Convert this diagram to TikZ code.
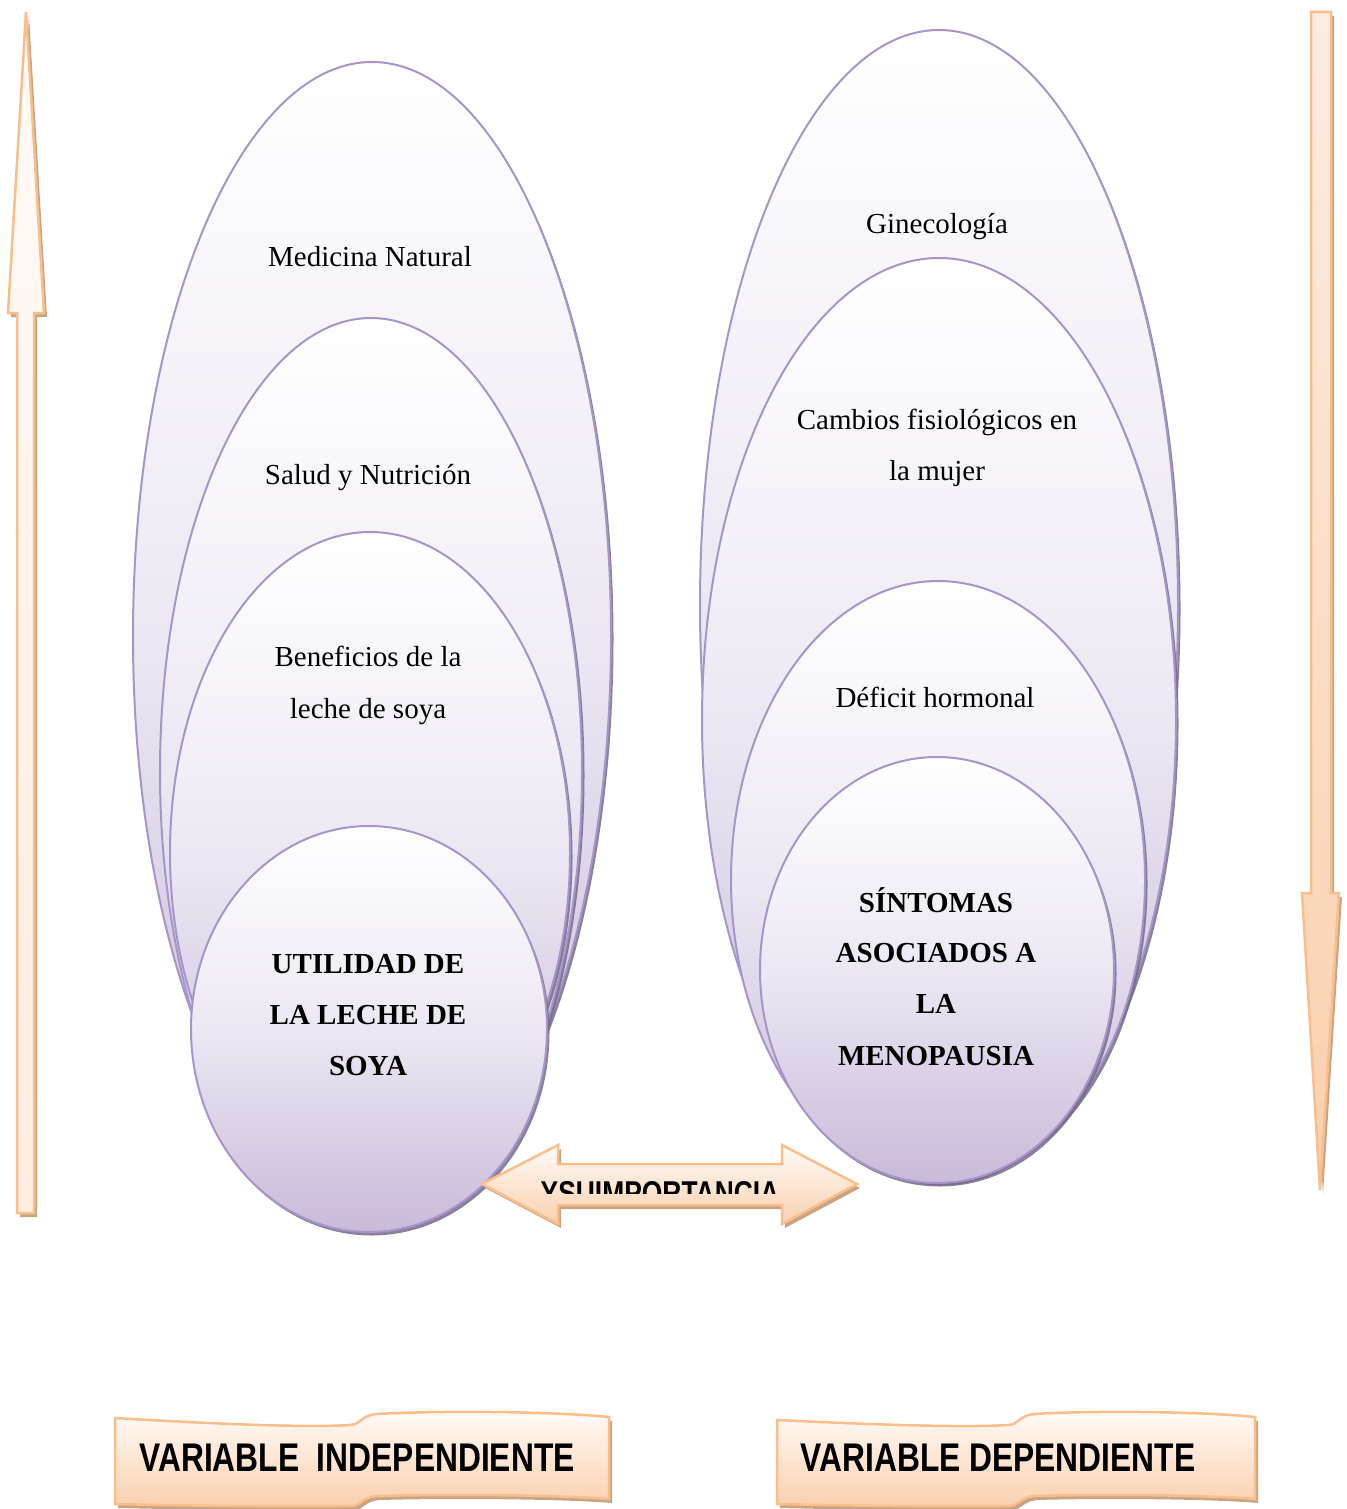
\documentclass[tikz,border=0pt]{standalone}
\usepackage{fontspec}
\setmainfont{Liberation Serif}
\newfontfamily\labelfont{Liberation Sans}
\usetikzlibrary{shapes.geometric,shadows}
\definecolor{ellLine}{RGB}{166,150,200}
\definecolor{ellBot}{RGB}{201,186,218}
\definecolor{ellMid}{RGB}{236,232,243}
\definecolor{ellShadow}{RGB}{118,106,140}
\definecolor{orLine}{RGB}{249,190,138}
\definecolor{orBot}{RGB}{250,208,174}
\definecolor{orTop}{RGB}{255,251,248}
\definecolor{orPale}{RGB}{253,236,224}
\definecolor{orShadow}{RGB}{200,164,134}
\tikzset{
  ellbox/.style={ellipse, draw=ellLine, line width=2pt, inner sep=0pt,
    top color=white, bottom color=ellBot, middle color=ellMid,
    general shadow={fill=ellShadow, shadow xshift=2.5pt, shadow yshift=-3.5pt, opacity=0.85}},
  txt/.style={anchor=base, inner sep=0pt, font=\fontsize{29}{35}\selectfont},
  btxt/.style={txt, font=\fontsize{29}{35}\selectfont\bfseries},
  orshape/.style={draw=orLine, line width=2.5pt, line join=miter,
    general shadow={fill=orShadow, shadow xshift=3pt, shadow yshift=-4pt}},
  labtxt/.style={anchor=base, inner sep=0pt, font=\labelfont\fontsize{40}{48}\selectfont\bfseries}
}
\begin{document}
\begin{tikzpicture}[x=1pt,y=-1pt]
\useasboundingbox (0,0) rectangle (1346,1509);

% vertical arrows
\draw[orshape, top color=orTop, bottom color=orPale] (26,12) -- (44,313) -- (34,313) -- (34,1213) -- (17,1213) -- (17,313) -- (8,313) -- cycle;
\draw[orshape, top color=orPale, bottom color=orBot] (1311,12) -- (1331,12) -- (1331,893) -- (1339,893) -- (1320,1190) -- (1302,893) -- (1311,893) -- cycle;

% left group
\node[ellbox, minimum width=478pt, minimum height=1148pt] (L1) at (372,636) {};
\node[ellbox, minimum width=422pt, minimum height=908pt] (L2) at (371,772) {};
\node[ellbox, minimum width=400pt, minimum height=642pt] (L3) at (370,853) {};
\node[ellbox, minimum width=356pt, minimum height=406pt] (L4) at (369,1029) {};

% right group
\node[ellbox, minimum width=478pt, minimum height=1150pt] (R1) at (939,605) {};
\node[ellbox, minimum width=474pt, minimum height=924pt] (R2) at (939,720) {};
\node[ellbox, minimum width=414pt, minimum height=598pt] (R3) at (938,880) {};
\node[ellbox, minimum width=354pt, minimum height=426pt] (R4) at (937,970) {};

% left texts
\node[txt] (t1) at (370,266) {Medicina Natural};
\node[txt] (t2) at (368,484) {Salud y Nutrición};
\node[txt] (t3) at (368,666) {Beneficios de la};
\node[txt] (t3b) at (368,718) {leche de soya};
\node[btxt] (t4) at (368,973) {UTILIDAD DE};
\node[btxt] (t4b) at (368,1024) {LA LECHE DE};
\node[btxt] (t4c) at (368,1075) {SOYA};

% right texts
\node[txt] (s1) at (937,233) {Ginecología};
\node[txt] (s2) at (937,429) {Cambios fisiológicos en};
\node[txt] (s2b) at (937,480) {la mujer};
\node[txt] (s3) at (935,707) {Déficit hormonal};
\node[btxt] (s4) at (936,912) {SÍNTOMAS};
\node[btxt] (s4b) at (936,962) {ASOCIADOS A};
\node[btxt] (s4c) at (936,1013) {LA};
\node[btxt] (s4d) at (936,1065) {MENOPAUSIA};

% double arrow
\draw[orshape, top color=orTop, bottom color=orBot] (482,1184) -- (558,1145) -- (558,1164) -- (782,1164) -- (782,1145) -- (857,1184) -- (782,1224) -- (782,1205) -- (558,1205) -- (558,1224) -- cycle;
\begin{scope}
\clip (500,1150) rectangle (840,1193);
\node[labtxt, font=\labelfont\fontsize{33}{40}\selectfont\bfseries] (imp) at (660,1204) {\scalebox{0.8}[1]{YSUIMPORTANCIA}};
\end{scope}

% bottom labels
\draw[orshape, top color=orTop, bottom color=orBot]
  (115,1418) .. controls (200,1423) and (300,1428) .. (350,1425)
  .. controls (362,1424) and (360,1416) .. (376,1414)
  .. controls (450,1410) and (560,1412) .. (609,1417)
  -- (609,1499)
  .. controls (560,1495) and (450,1494) .. (376,1496)
  .. controls (360,1498) and (362,1506) .. (350,1506)
  .. controls (300,1507) and (200,1506) .. (115,1504) -- cycle;
\node[labtxt] (vi) at (357,1471) {\scalebox{0.794}[1]{VARIABLE\ \ INDEPENDIENTE}};

\draw[orshape, top color=orTop, bottom color=orBot]
  (777,1420) .. controls (860,1424) and (960,1428) .. (1008,1425)
  .. controls (1020,1424) and (1018,1416) .. (1034,1414)
  .. controls (1100,1410) and (1210,1412) .. (1255,1417)
  -- (1255,1499)
  .. controls (1210,1495) and (1100,1494) .. (1034,1496)
  .. controls (1018,1498) and (1020,1506) .. (1008,1506)
  .. controls (960,1507) and (860,1506) .. (777,1504) -- cycle;
\node[labtxt] (vd) at (998,1471) {\scalebox{0.794}[1]{VARIABLE DEPENDIENTE}};
\end{tikzpicture}
\end{document}
